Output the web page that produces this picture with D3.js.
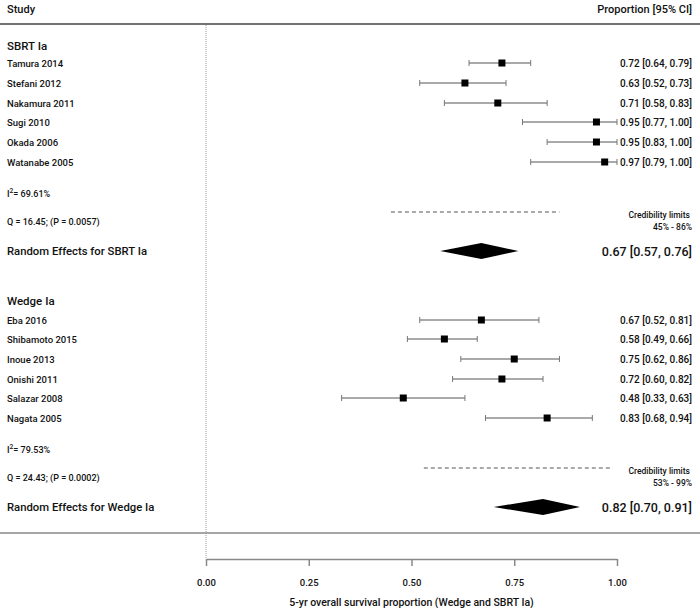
<!DOCTYPE html>
<html><head><meta charset="utf-8">
<script src="https://cdn.jsdelivr.net/npm/d3@7"></script>
<style>html,body{margin:0;padding:0;background:#fff}svg{display:block;font-family:Roboto,"Liberation Sans",Arial,sans-serif}</style>
</head><body><div id="c"></div>
<script>
const sbrtStudies = ["Tamura 2014","Stefani 2012","Nakamura 2011","Sugi 2010","Okada 2006","Watanabe 2005"];
const sbrtEst = [0.72,0.63,0.71,0.95,0.95,0.97];
const sbrtLo  = [0.64,0.52,0.58,0.77,0.83,0.79];
const sbrtHi  = [0.79,0.73,0.83,1.00,1.00,1.00];
const wedgeStudies = ["Eba 2016","Shibamoto 2015","Inoue 2013","Onishi 2011","Salazar 2008","Nagata 2005"];
const wedgeEst = [0.67,0.58,0.75,0.72,0.48,0.83];
const wedgeLo  = [0.52,0.49,0.62,0.60,0.33,0.68];
const wedgeHi  = [0.81,0.66,0.86,0.82,0.63,0.94];
const groupNames = ["SBRT Ia","Wedge Ia"];
const pooledEst = [0.67,0.82];
const pooledLo = [0.57,0.70];
const pooledHi = [0.76,0.91];
const i2Text = ["69.61%","79.53%"];
const qText = ["Q = 16.45; (P = 0.0057)","Q = 24.43; (P = 0.0002)"];
const credLo = [0.45,0.53];
const credHi = [0.86,0.99];
const tickValues = [0,0.25,0.5,0.75,1];
const xTitle = "5-yr overall survival proportion (Wedge and SBRT Ia)";

const W=700,H=608;
const svg=d3.select("#c").append("svg").attr("width",W).attr("height",H);
const x=d3.scaleLinear().domain([0,1]).range([206,617]);
const f2=d3.format(".2f");
const LX=7, RX=692;

// header
svg.append("text").attr("x",LX).attr("y",13).attr("font-size",11).attr("font-weight",500).attr("fill","#111").text("Study");
svg.append("text").attr("x",RX).attr("y",13).attr("text-anchor","end").attr("font-size",11).attr("font-weight",500).attr("fill","#111").text("Proportion [95% CI]");
svg.append("line").attr("x1",0).attr("x2",W).attr("y1",24).attr("y2",24).attr("stroke","#444").attr("stroke-width",1.5);
svg.append("line").attr("x1",0).attr("x2",W).attr("y1",533).attr("y2",533).attr("stroke","#888").attr("stroke-width",1.5);
// dotted reference line
svg.append("line").attr("x1",x(0)).attr("x2",x(0)).attr("y1",25).attr("y2",559).attr("stroke","#999").attr("stroke-width",1).attr("stroke-dasharray","1,1");

const groups=[
 {name:groupNames[0],studies:sbrtStudies,est:sbrtEst,lo:sbrtLo,hi:sbrtHi,y0:45,rows:[63,83,103,122,142,162],yi:193,yq:221,yre:251},
 {name:groupNames[1],studies:wedgeStudies,est:wedgeEst,lo:wedgeLo,hi:wedgeHi,y0:300,rows:[320,339,359,379,398,418],yi:449,yq:477,yre:507}
];
groups.forEach((g,gi)=>{
  svg.append("text").attr("x",LX).attr("y",g.y0+4.5).attr("font-size",11.5).attr("font-weight",500).attr("fill","#111").text(g.name);
  g.studies.forEach((s,i)=>{
    const y=g.rows[i];
    svg.append("text").attr("x",LX).attr("y",y+3.5).attr("font-size",9.5).attr("font-weight",500).attr("fill","#111").text(s);
    svg.append("text").attr("x",RX).attr("y",y+3.5).attr("text-anchor","end").attr("font-size",10).attr("font-weight",500).attr("fill","#111")
      .text(`${f2(g.est[i])} [${f2(g.lo[i])}, ${f2(g.hi[i])}]`);
    svg.append("line").attr("x1",x(g.lo[i])).attr("x2",x(g.hi[i])).attr("y1",y).attr("y2",y).attr("stroke","#555").attr("stroke-width",1);
    [g.lo[i],g.hi[i]].forEach(v=>svg.append("line").attr("x1",x(v)).attr("x2",x(v)).attr("y1",y-3).attr("y2",y+3).attr("stroke","#777").attr("stroke-width",1));
    svg.append("rect").attr("x",x(g.est[i])-3.5).attr("y",y-3.5).attr("width",7).attr("height",7).attr("fill","#000");
  });
  const ti=svg.append("text").attr("x",LX).attr("y",g.yi+3.5).attr("font-size",9).attr("font-weight",500).attr("fill","#111");
  ti.append("tspan").text("I");
  ti.append("tspan").attr("font-size",6.5).attr("dy",-4).text("2");
  ti.append("tspan").attr("dy",4).text("= "+i2Text[gi]);
  svg.append("text").attr("x",LX).attr("y",g.yq+3.5).attr("font-size",9).attr("font-weight",500).attr("fill","#111").text(qText[gi]);
  // credibility line
  const yc=g.yq-9;
  svg.append("line").attr("x1",x(credLo[gi])).attr("x2",x(credHi[gi])).attr("y1",yc).attr("y2",yc).attr("stroke","#555").attr("stroke-width",1).attr("stroke-dasharray","4,3");
  svg.append("text").attr("x",RX-2).attr("y",yc+6).attr("text-anchor","end").attr("font-size",8.5).attr("font-weight",500).attr("fill","#111").text("Credibility limits");
  svg.append("text").attr("x",RX).attr("y",yc+18).attr("text-anchor","end").attr("font-size",8.5).attr("font-weight",500).attr("fill","#111")
    .text(`${Math.round(credLo[gi]*100)}% - ${Math.round(credHi[gi]*100)}%`);
  // pooled
  svg.append("text").attr("x",LX).attr("y",g.yre+4).attr("font-size",11.3).attr("font-weight",500).attr("fill","#111").text("Random Effects for "+g.name);
  svg.append("text").attr("x",RX).attr("y",g.yre+4.5).attr("text-anchor","end").attr("font-size",12.5).attr("font-weight",500).attr("fill","#111")
    .text(`${f2(pooledEst[gi])} [${f2(pooledLo[gi])}, ${f2(pooledHi[gi])}]`);
  const yr=g.yre;
  svg.append("path").attr("d",`M${x(pooledLo[gi])},${yr}L${x(pooledEst[gi])},${yr-8}L${x(pooledHi[gi])},${yr}L${x(pooledEst[gi])},${yr+8}Z`).attr("fill","#000");
});

// axis
const ax=svg.append("g").attr("transform","translate(0,559)")
  .call(d3.axisBottom(x).tickValues(tickValues).tickFormat(d3.format(".2f")).tickSize(7).tickSizeOuter(0));
ax.select(".domain").attr("stroke","#888").attr("stroke-width",1.5);
ax.selectAll(".tick line").attr("stroke","#888").attr("stroke-width",1.5);
ax.selectAll(".tick text").attr("font-size",9.5).attr("font-weight",500).attr("fill","#111").attr("font-family","Roboto,sans-serif").attr("dy","1.8em");
svg.append("text").attr("x",x(0.5)).attr("y",606).attr("text-anchor","middle").attr("font-size",10.5).attr("font-weight",500).attr("fill","#111").text(xTitle);
</script></body></html>
